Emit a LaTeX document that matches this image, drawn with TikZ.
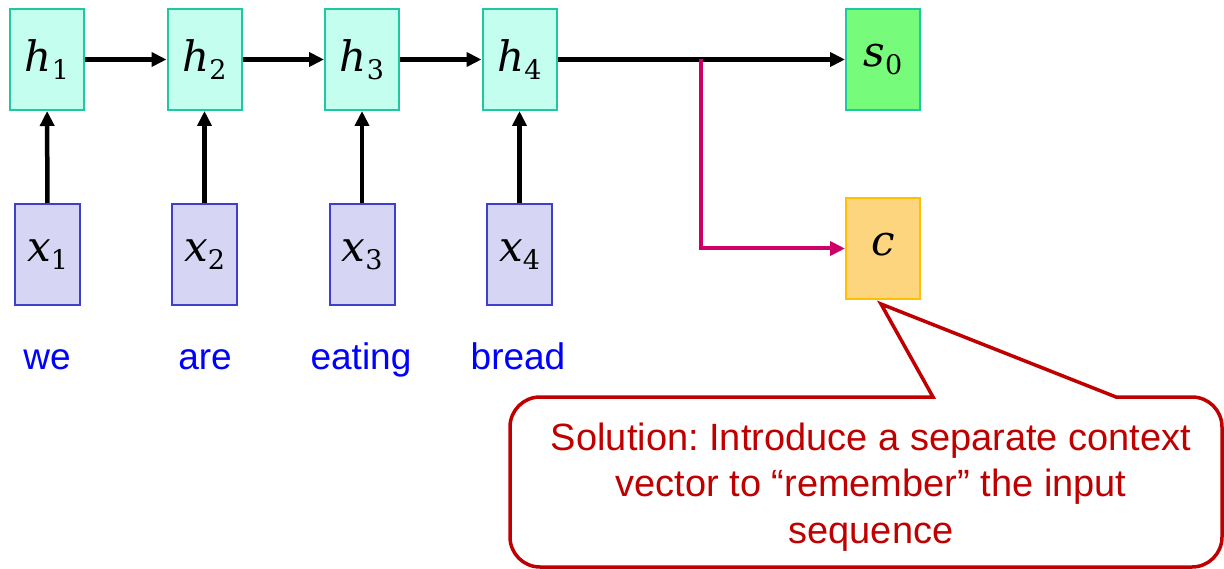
\documentclass[tikz,border=0pt]{standalone}
\usepackage{fontspec}
\setmainfont{Liberation Sans}
\newfontfamily\symfont{DejaVu Serif}
\usetikzlibrary{arrows.meta}
\frenchspacing
\definecolor{hfill}{HTML}{C4FEEE}
\definecolor{hline}{HTML}{1FC8A0}
\definecolor{sfill}{HTML}{77FB7A}
\definecolor{xfill}{HTML}{D6D6F4}
\definecolor{xline}{HTML}{3F3FCF}
\definecolor{cfill}{HTML}{FDD57E}
\definecolor{cline}{HTML}{FFC000}
\definecolor{magline}{HTML}{CC0066}
\definecolor{wordblue}{HTML}{0000FF}
\definecolor{notered}{HTML}{C00000}
% italic variable with an upright subscript
\newcommand{\var}[2]{{\symfont\fontsize{42}{46}\selectfont\itshape #1}\raisebox{-8pt}{\symfont\fontsize{27}{30}\selectfont #2}}
\begin{document}
\begin{tikzpicture}[x=1pt,y=-1pt,
  cell/.style={draw,line width=2pt,inner sep=0pt,minimum width=74pt,minimum height=101pt},
  hidden/.style={cell,fill=hfill,draw=hline},
  input/.style={cell,fill=xfill,draw=xline,minimum width=65pt},
  state/.style={cell,fill=sfill,draw=hline},
  context/.style={cell,fill=cfill,draw=cline},
  word/.style={text=wordblue,anchor=base,font=\fontsize{37}{44}\selectfont},
  arr/.style={line width=4.5pt,-{Triangle[length=15pt,width=14pt]}},
  magarr/.style={arr,draw=magline,line width=4pt}]
\useasboundingbox (0,0) rectangle (1224,569);

% encoder hidden states
\node[hidden] (h1) at (47,59.5) {\var{h}{1}};
\node[hidden] (h2) at (204.5,59.5) {\var{h}{2}};
\node[hidden] (h3) at (362,59.5) {\var{h}{3}};
\node[hidden] (h4) at (519.5,59.5) {\var{h}{4}};

% inputs
\node[input] (x1) at (47.5,254.5) {\var{x}{1}};
\node[input] (x2) at (204.5,254.5) {\var{x}{2}};
\node[input] (x3) at (362,254.5) {\var{x}{3}};
\node[input] (x4) at (519.5,254.5) {\var{x}{4}};

% words
\node[word] (w1) at (47,370) {we};
\node[word] (w2) at (205,370) {are};
\node[word] (w3) at (361,370) {eating};
\node[word] (w4) at (518,370) {bread};

% decoder initial state and context vector
\node[state] (s0) at (883,59.5) {\var{s}{0}};
\node[context] (c) at (883,248.5) {\var{c}{}};

% connections
\foreach \i in {1,...,4} \draw[arr] (x\i) -- (h\i);
\draw[arr] (h1) -- (h2);
\draw[arr] (h2) -- (h3);
\draw[arr] (h3) -- (h4);
\draw[arr] (h4) -- (s0);
\coordinate (br) at (701,59.5);
\draw[magarr] (br) |- (c.west);

% callout
\coordinate (tip) at (881,304);
\draw[notered,line width=3.5pt,fill=white,line join=miter]
  (510,480) [rounded corners=30pt] -- (510,397) [sharp corners] -- (933,397)
  -- (tip) -- (1116,397) [rounded corners=30pt] -- (1222,397)
  -- (1222,567) -- (510,567) -- cycle;
\node[text=notered,align=center,font=\fontsize{38}{46.5}\selectfont] (note) at (871,487)
  {Solution: Introduce a separate context\\vector to “remember” the input\\sequence};
\end{tikzpicture}
\end{document}
